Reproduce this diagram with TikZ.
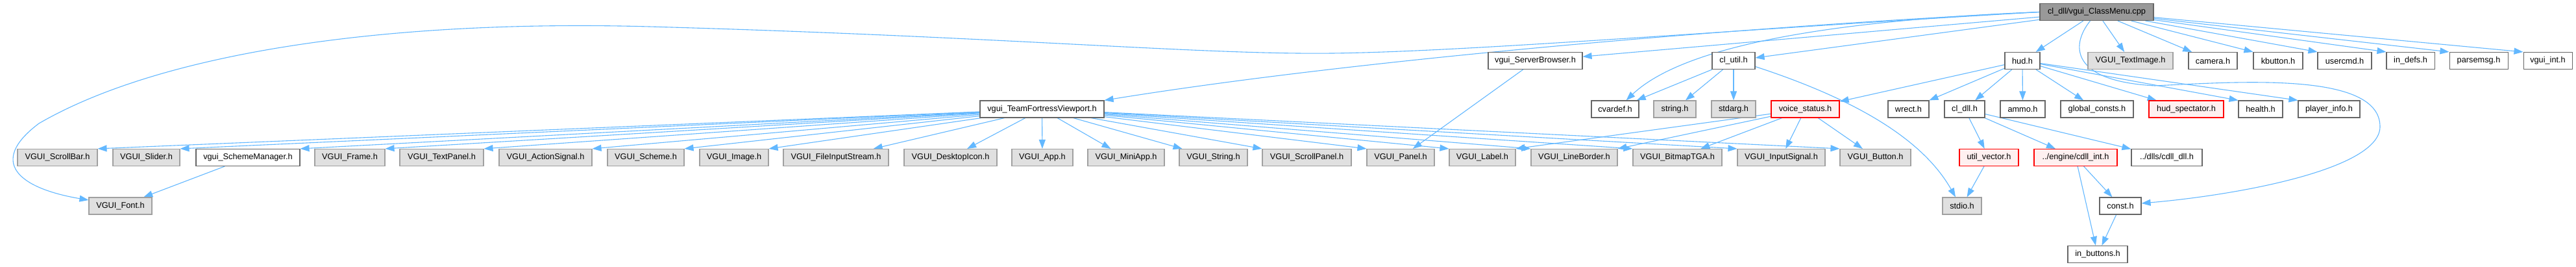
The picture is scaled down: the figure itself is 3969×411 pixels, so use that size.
\documentclass[tikz,border=0pt]{standalone}
\usepackage{fontspec}
\setmainfont{Liberation Sans}
\usetikzlibrary{arrows.meta}
\definecolor{edgec}{HTML}{63B8FF}
\definecolor{bdark}{HTML}{666666}
\definecolor{bgray}{HTML}{A0A0A0}
\definecolor{fgray}{HTML}{E0E0E0}
\definecolor{fred}{HTML}{FFF0F0}
\definecolor{froot}{HTML}{999999}
\pgfdeclarelayer{bg}
\pgfsetlayers{bg,main}
\tikzset{
  edge/.style={draw=edgec, line width=1.1pt, -{Triangle[length=14pt,width=10pt]}},
  basebox/.style={rectangle, inner sep=0pt, line width=1.1pt, font=\fontsize{12.75}{15}\selectfont, text=black},
  wh/.style={basebox, draw=bdark, fill=white},
  gr/.style={basebox, draw=bgray, fill=fgray},
  rd/.style={basebox, draw=red, fill=fred},
  rt/.style={basebox, draw=bdark, fill=froot},
}
\newcommand\mknode[6]{\node[#2, minimum width={#4-#3}, minimum height=26] (#1) at ({(#3+#4)/2},#5) {#6};}
\begin{document}
\begin{tikzpicture}[x=1pt,y=-1pt]
\useasboundingbox (0,0) rectangle (3969,411);
% row 0
\mknode{root}{rt}{3143}{3318}{18.5}{cl\_dll/vgui\_ClassMenu.cpp}
% row 1
\mknode{sb}{wh}{2293}{2438}{93.5}{vgui\_ServerBrowser.h}
\mknode{clutil}{wh}{2638}{2704}{93.5}{cl\_util.h}
\mknode{hud}{wh}{3089}{3143}{93.5}{hud.h}
\mknode{textimage}{gr}{3217}{3348}{93.5}{VGUI\_TextImage.h}
\mknode{camera}{wh}{3372}{3447}{93.5}{camera.h}
\mknode{kbutton}{wh}{3472}{3548}{93.5}{kbutton.h}
\mknode{usercmd}{wh}{3571}{3654}{93.5}{usercmd.h}
\mknode{indefs}{wh}{3677}{3751}{93.5}{in\_defs.h}
\mknode{parsemsg}{wh}{3774}{3864}{93.5}{parsemsg.h}
\mknode{vguiint}{wh}{3888}{3963}{93.5}{vgui\_int.h}
% row 2
\mknode{tfv}{wh}{1510}{1701}{168}{vgui\_TeamFortressViewport.h}
\mknode{cvardef}{wh}{2452}{2525}{168}{cvardef.h}
\mknode{string}{gr}{2548}{2613}{168}{string.h}
\mknode{stdarg}{gr}{2637}{2705}{168}{stdarg.h}
\mknode{voice}{rd}{2729}{2834}{168}{voice\_status.h}
\mknode{wrect}{wh}{2909}{2972}{168}{wrect.h}
\mknode{cldll}{wh}{2996}{3058}{168}{cl\_dll.h}
\mknode{ammo}{wh}{3082}{3151}{168}{ammo.h}
\mknode{globalc}{wh}{3175}{3287}{168}{global\_consts.h}
\mknode{hudspec}{rd}{3311}{3426}{168}{hud\_spectator.h}
\mknode{health}{wh}{3449}{3517}{168}{health.h}
\mknode{playerinfo}{wh}{3541}{3636}{168}{player\_info.h}
% row 3
\mknode{scrollbar}{gr}{27}{150}{242.5}{VGUI\_ScrollBar.h}
\mknode{slider}{gr}{174}{277}{242.5}{VGUI\_Slider.h}
\mknode{schememgr}{wh}{302}{462}{242.5}{vgui\_SchemeManager.h}
\mknode{frame}{gr}{485}{593}{242.5}{VGUI\_Frame.h}
\mknode{textpanel}{gr}{616}{745}{242.5}{VGUI\_TextPanel.h}
\mknode{actionsig}{gr}{769}{912}{242.5}{VGUI\_ActionSignal.h}
\mknode{scheme}{gr}{936}{1054}{242.5}{VGUI\_Scheme.h}
\mknode{image}{gr}{1078}{1184}{242.5}{VGUI\_Image.h}
\mknode{fileis}{gr}{1207}{1369}{242.5}{VGUI\_FileInputStream.h}
\mknode{desktop}{gr}{1393}{1536}{242.5}{VGUI\_DesktopIcon.h}
\mknode{app}{gr}{1559}{1653}{242.5}{VGUI\_App.h}
\mknode{miniapp}{gr}{1676}{1794}{242.5}{VGUI\_MiniApp.h}
\mknode{vstring}{gr}{1817}{1922}{242.5}{VGUI\_String.h}
\mknode{scrollpanel}{gr}{1945}{2082}{242.5}{VGUI\_ScrollPanel.h}
\mknode{panel}{gr}{2106}{2210}{242.5}{VGUI\_Panel.h}
\mknode{label}{gr}{2233}{2335}{242.5}{VGUI\_Label.h}
\mknode{lineborder}{gr}{2359}{2492}{242.5}{VGUI\_LineBorder.h}
\mknode{bitmap}{gr}{2516}{2653}{242.5}{VGUI\_BitmapTGA.h}
\mknode{inputsig}{gr}{2677}{2812}{242.5}{VGUI\_InputSignal.h}
\mknode{button}{gr}{2835}{2944}{242.5}{VGUI\_Button.h}
\mknode{utilvec}{rd}{3019}{3110}{242.5}{util\_vector.h}
\mknode{cdllint}{rd}{3134}{3262}{242.5}{../engine/cdll\_int.h}
\mknode{cdlldll}{wh}{3284}{3393}{242.5}{../dlls/cdll\_dll.h}
% row 4
\mknode{font}{gr}{137}{234}{317}{VGUI\_Font.h}
\mknode{stdio}{gr}{2993}{3053}{317}{stdio.h}
\mknode{cnst}{wh}{3235}{3299}{317}{const.h}
% row 5
\mknode{inbuttons}{wh}{3186}{3278}{391.5}{in\_buttons.h}

\begin{pgfonlayer}{bg}
\fill[white] (0,0) rectangle (3969,411);
% root edges
\draw[edge] (root) -- (hud);
\draw[edge] (root) -- (textimage);
\draw[edge] (root) -- (camera);
\draw[edge] (root) -- (kbutton.north west);
\draw[edge] (root) -- (usercmd.north west);
\draw[edge] (root) -- (indefs.north west);
\draw[edge] (root) -- (parsemsg.north west);
\draw[edge] (root) -- (vguiint.north west);
\draw[edge] (root) -- (clutil);
\draw[edge] (root) -- (sb);
\draw[edge] (root.west) .. controls (2700,40) and (2100,90) .. (tfv.north east);
\draw[edge] (root.west) .. controls (2850,30) and (2600,65) .. ([xshift=17pt]cvardef.north);
\draw[edge] (root.west) .. controls (2600,50) and (2200,85) .. (2000,82)
   .. controls (1800,80) and (1500,55) .. (1000,41)
   .. controls (600,30) and (250,80) .. (60,190)
   .. controls (-20,250) and (30,290) .. ([yshift=9pt]font.west);
\draw[edge] ([xshift=-10pt]root.south) .. controls (3190,70) and (3190,125) .. (3320,132)
   .. controls (3450,126) and (3667,110) .. (3667,195)
   .. controls (3667,260) and (3450,300) .. ([yshift=4pt]cnst.east);
% hud edges
\draw[edge] (hud) -- (cldll);
\draw[edge] (hud) -- (ammo);
\draw[edge] (hud) -- (globalc);
\draw[edge] (hud) -- (hudspec);
\draw[edge] (hud) -- (health.north west);
\draw[edge] (hud) -- (playerinfo.north west);
\draw[edge] (hud) -- (voice);
\draw[edge] (hud) -- (wrect);
% cl_util edges
\draw[edge] (clutil) -- (cvardef);
\draw[edge] (clutil) -- (string);
\draw[edge] (clutil) -- (stdarg);
\draw[edge] ([yshift=-9pt]clutil.east) .. controls (2850,150) and (2960,210) .. ([xshift=-10pt]stdio.north);
% server browser
\draw[edge] (sb) -- (panel);
% scheme manager
\draw[edge] (schememgr) -- (font);
% TFV edges
\draw[edge] (tfv) -- (scrollbar.north east);
\draw[edge] (tfv) -- (slider.north east);
\draw[edge] (tfv) -- (schememgr.north east);
\draw[edge] (tfv) -- (frame.north east);
\draw[edge] (tfv) -- (textpanel.north east);
\draw[edge] (tfv) -- (actionsig.north east);
\draw[edge] (tfv) -- (scheme.north east);
\draw[edge] (tfv) -- (image.north east);
\draw[edge] (tfv) -- (fileis);
\draw[edge] (tfv) -- (desktop);
\draw[edge] (tfv) -- (app);
\draw[edge] (tfv) -- (miniapp);
\draw[edge] (tfv) -- (vstring);
\draw[edge] (tfv) -- (scrollpanel.north west);
\draw[edge] (tfv) -- (panel.north west);
\draw[edge] (tfv) -- (label.north west);
\draw[edge] (tfv) -- (lineborder.north west);
\draw[edge] (tfv) -- (bitmap.north west);
\draw[edge] (tfv) -- (inputsig.north west);
\draw[edge] (tfv) -- (button.north west);
% voice status
\draw[edge] (voice) -- (label.north east);
\draw[edge] (voice) -- (lineborder.north east);
\draw[edge] (voice) -- (bitmap);
\draw[edge] (voice) -- (inputsig);
\draw[edge] (voice) -- (button);
% cl_dll
\draw[edge] (cldll) -- (utilvec);
\draw[edge] (cldll) -- (cdllint);
\draw[edge] (cldll) -- (cdlldll);
\draw[edge] (utilvec) -- (stdio);
\draw[edge] (cdllint) -- (cnst);
\draw[edge] (cdllint) -- (inbuttons);
\draw[edge] (cnst) -- (inbuttons);
\end{pgfonlayer}
\end{tikzpicture}
\end{document}
